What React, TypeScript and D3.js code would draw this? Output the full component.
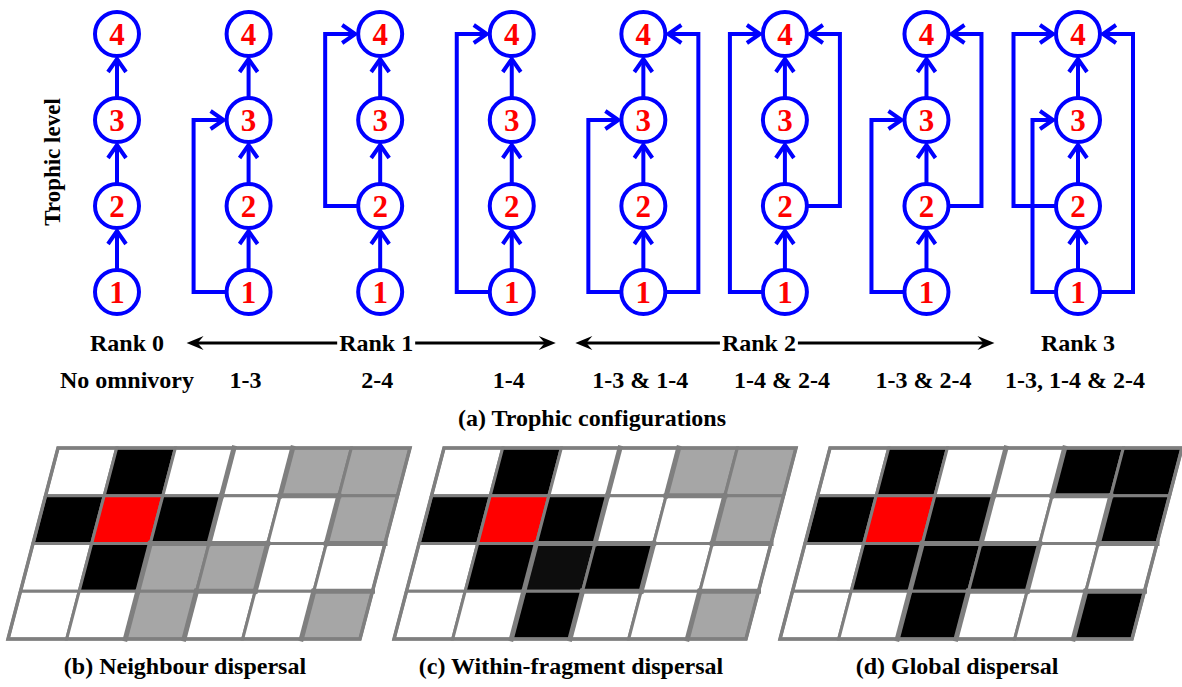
import React from "react";
import * as d3 from "d3";

// ---------- data ----------
const LEVELS = [1, 2, 3, 4];
const CONFIG_LABELS = [
  "No omnivory",
  "1-3",
  "2-4",
  "1-4",
  "1-3 & 1-4",
  "1-4 & 2-4",
  "1-3 & 2-4",
  "1-3, 1-4 & 2-4",
];
// omnivory links per configuration: [from level, to level, side]
const CONFIG_LINKS: [number, number, string][][] = [
  [],
  [[1, 3, "L"]],
  [[2, 4, "L"]],
  [[1, 4, "L"]],
  [[1, 3, "L"], [1, 4, "R"]],
  [[1, 4, "L"], [2, 4, "R"]],
  [[1, 3, "L"], [2, 4, "R"]],
  [[1, 3, "L"], [2, 4, "L"], [1, 4, "R"]],
];
const RANK_LABELS = ["Rank 0", "Rank 1", "Rank 2", "Rank 3"];
const RANK_FIRST = [0, 1, 4, 7];
const RANK_LAST = [0, 3, 6, 7];
const TITLE_A = "(a) Trophic configurations";
const PANEL_TITLES = [
  "(b) Neighbour dispersal",
  "(c) Within-fragment dispersal",
  "(d) Global dispersal",
];
// habitat fragment id for each cell (rows top→bottom)
const FRAGMENTS = [
  [0, 0, 0, 1, 2, 2],
  [0, 0, 0, 1, 1, 2],
  [0, 0, 3, 3, 1, 1],
  [0, 0, 3, 1, 1, 4],
];
// cell states: w empty, b reached, r source, g unreached fragment, d reached (dark)
const PANEL_B = ["wbwwgg", "brbwwg", "wbggww", "wwgwwg"];
const PANEL_C = ["wbwwgg", "brbwwg", "wbdbww", "wwbwwg"];
const PANEL_D = ["wbwwbb", "brbwwb", "wbbbww", "wwbwwb"];
const PANELS = [PANEL_B, PANEL_C, PANEL_D];

// ---------- layout / style ----------
const W = 1182;
const H = 687;
const FONT = "'Liberation Serif', 'Times New Roman', serif";
const BLUE = "#0000ff";
const RED = "#ff0000";
const R = 22;
const LANE_BASE = 55;
const LANE_STEP = 19;
const FILL: Record<string, string> = {
  w: "#ffffff",
  b: "#000000",
  r: "#ff0000",
  g: "#a6a6a6",
  d: "#0d0d0d",
};
const RANK_PAD_LEFT = [0, 62, 68, 0];
const RANK_PAD_RIGHT = [0, 44, 68, 0];
const RANK_TEXT_SHIFT = [10, -4, -26, 0];

const y = d3.scaleLinear().domain([1, 4]).range([292, 34]);

// column positions from lane counts
const lanesL = CONFIG_LINKS.map((ls) => ls.filter((l) => l[2] === "L").length);
const lanesR = CONFIG_LINKS.map((ls) => ls.filter((l) => l[2] === "R").length);
const cum: number[] = [0];
for (let i = 1; i < CONFIG_LINKS.length; i++) {
  cum.push(cum[i - 1] + 1 + 0.082 * (lanesR[i - 1] + lanesL[i]));
}
const colScale = d3.scaleLinear().domain([0, cum[cum.length - 1]]).range([117, 1078]);
const colX = cum.map((c) => colScale(c));

function chevron(x: number, yy: number, dx: number, dy: number) {
  // apex at (x,yy); arms opening in direction (dx,dy)
  const px = -dy;
  const py = dx;
  const L = 13;
  const Wd = 9;
  return `M${x + dx * L + px * Wd},${yy + dy * L + py * Wd}L${x},${yy}L${x + dx * L - px * Wd},${yy + dy * L - py * Wd}`;
}

function Column({ i }: { i: number }) {
  const cx = colX[i];
  const links = CONFIG_LINKS[i];
  const els: React.ReactNode[] = [];
  // vertical chain
  LEVELS.slice(0, 3).forEach((l) => {
    const apex = y(l + 1) + R + 3;
    els.push(
      <path key={`v${l}`} d={`M${cx},${y(l) - R}V${apex}`} stroke={BLUE} strokeWidth={4} fill="none" />
    );
    els.push(
      <path key={`va${l}`} d={chevron(cx, apex, 0, 1)} stroke={BLUE} strokeWidth={4} fill="none" />
    );
  });
  ["L", "R"].forEach((side) => {
    const ls = links.filter((l) => l[2] === side);
    ls.forEach((l, k) => {
      const sgn = side === "L" ? -1 : 1;
      const off = LANE_BASE + (k - (ls.length - 1) / 2) * LANE_STEP;
      const lx = cx + sgn * off;
      const x0 = cx + sgn * R;
      const x1 = cx + sgn * (R + 3);
      const y0 = y(l[0]);
      const y1 = y(l[1]);
      els.push(
        <path
          key={`o${side}${k}`}
          d={`M${x0},${y0}H${lx}V${y1}H${x1}`}
          stroke={BLUE}
          strokeWidth={4}
          fill="none"
          strokeLinejoin="miter"
        />
      );
      els.push(
        <path key={`oa${side}${k}`} d={chevron(x1, y1, sgn, 0)} stroke={BLUE} strokeWidth={4} fill="none" />
      );
    });
  });
  LEVELS.forEach((l) => {
    els.push(
      <circle key={`c${l}`} cx={cx} cy={y(l)} r={R} fill="#fff" stroke={BLUE} strokeWidth={4} />
    );
    els.push(
      <text
        key={`t${l}`}
        x={cx}
        y={y(l) + 10.5}
        textAnchor="middle"
        fill={RED}
        fontFamily={FONT}
        fontWeight="bold"
        fontSize={31}
      >
        {l}
      </text>
    );
  });
  return <g>{els}</g>;
}

function arrowHead(x: number, yy: number, dir: number) {
  // filled concave arrowhead, tip at x, pointing in dir (-1 left, +1 right)
  const b = -dir;
  return `M${x},${yy}L${x + b * 17},${yy - 7}L${x + b * 11},${yy}L${x + b * 17},${yy + 7}Z`;
}

function Grid({ p }: { p: number }) {
  const panel = PANELS[p];
  const x0 = d3.scaleLinear().domain([0, 2]).range([58, 830])(p);
  const xs = d3.scaleLinear().domain([0, 6]).range([0, 352]);
  const ys = d3.scaleLinear().domain([0, 4]).range([448, 639]);
  const sk = d3.scaleLinear().domain([0, 4]).range([0, -50]);
  const pt = (c: number, r: number) => [x0 + xs(c) + sk(r), ys(r)];
  const cells: React.ReactNode[] = [];
  const thick: React.ReactNode[] = [];
  panel.forEach((row, r) => {
    row.split("").forEach((s, c) => {
      const pts = [pt(c, r), pt(c + 1, r), pt(c + 1, r + 1), pt(c, r + 1)];
      cells.push(
        <polygon
          key={`${r}-${c}`}
          points={pts.map((q) => q.join(",")).join(" ")}
          fill={FILL[s]}
          stroke="#7f7f7f"
          strokeWidth={3}
          strokeLinejoin="miter"
        />
      );
      if (c < 5 && FRAGMENTS[r][c] !== FRAGMENTS[r][c + 1]) {
        const a = pt(c + 1, r);
        const b = pt(c + 1, r + 1);
        thick.push(
          <line key={`v${r}-${c}`} x1={a[0]} y1={a[1]} x2={b[0]} y2={b[1]} stroke="#7f7f7f" strokeWidth={5} strokeLinecap="square" />
        );
      }
      if (r < 3 && FRAGMENTS[r][c] !== FRAGMENTS[r + 1][c]) {
        const a = pt(c, r + 1);
        const b = pt(c + 1, r + 1);
        thick.push(
          <line key={`h${r}-${c}`} x1={a[0]} y1={a[1]} x2={b[0]} y2={b[1]} stroke="#7f7f7f" strokeWidth={5} strokeLinecap="square" />
        );
      }
    });
  });
  const outline = [pt(0, 0), pt(6, 0), pt(6, 4), pt(0, 4)];
  return (
    <g>
      {cells}
      {thick}
      <polygon
        points={outline.map((q) => q.join(",")).join(" ")}
        fill="none"
        stroke="#7f7f7f"
        strokeWidth={3.5}
      />
      <text
        x={x0 + xs(3) + sk(2) - 24}
        y={674}
        textAnchor="middle"
        fontFamily={FONT}
        fontWeight="bold"
        fontSize={24}
      >
        {PANEL_TITLES[p]}
      </text>
    </g>
  );
}

export default function App() {
  const rankY = 343;
  return (
    <svg
      width={W}
      height={H}
      viewBox={`0 0 ${W} ${H}`}
      style={{ position: "absolute", left: 0, top: 0, background: "#fff" }}
    >
      <rect width={W} height={H} fill="#fff" />
      <text
        transform="translate(60,162) rotate(-90)"
        textAnchor="middle"
        fontFamily={FONT}
        fontWeight="bold"
        fontSize={23}
      >
        Trophic level
      </text>
      {CONFIG_LINKS.map((_, i) => (
        <Column key={i} i={i} />
      ))}
      {RANK_LABELS.map((lab, k) => {
        const a = colX[RANK_FIRST[k]];
        const b = colX[RANK_LAST[k]];
        const tx = (a + b) / 2 + RANK_TEXT_SHIFT[k];
        const multi = RANK_LAST[k] > RANK_FIRST[k];
        const s = a - RANK_PAD_LEFT[k];
        const e = b + RANK_PAD_RIGHT[k];
        const half = 39;
        return (
          <g key={lab}>
            {multi && (
              <g>
                <path d={`M${s + 10},${rankY}H${tx - half}`} stroke="#000" strokeWidth={3} />
                <path d={`M${tx + half},${rankY}H${e - 10}`} stroke="#000" strokeWidth={3} />
                <path d={arrowHead(s, rankY, -1)} fill="#000" />
                <path d={arrowHead(e, rankY, 1)} fill="#000" />
              </g>
            )}
            <text
              x={tx}
              y={351}
              textAnchor="middle"
              fontFamily={FONT}
              fontWeight="bold"
              fontSize={24}
            >
              {lab}
            </text>
          </g>
        );
      })}
      {CONFIG_LABELS.map((lab, i) => (
        <text
          key={lab}
          x={colX[i] + (i === 0 ? 10 : -3)}
          y={388}
          textAnchor="middle"
          fontFamily={FONT}
          fontWeight="bold"
          fontSize={24}
        >
          {lab}
        </text>
      ))}
      <text x={592} y={426} textAnchor="middle" fontFamily={FONT} fontWeight="bold" fontSize={24}>
        {TITLE_A}
      </text>
      {PANELS.map((_, p) => (
        <Grid key={p} p={p} />
      ))}
    </svg>
  );
}
